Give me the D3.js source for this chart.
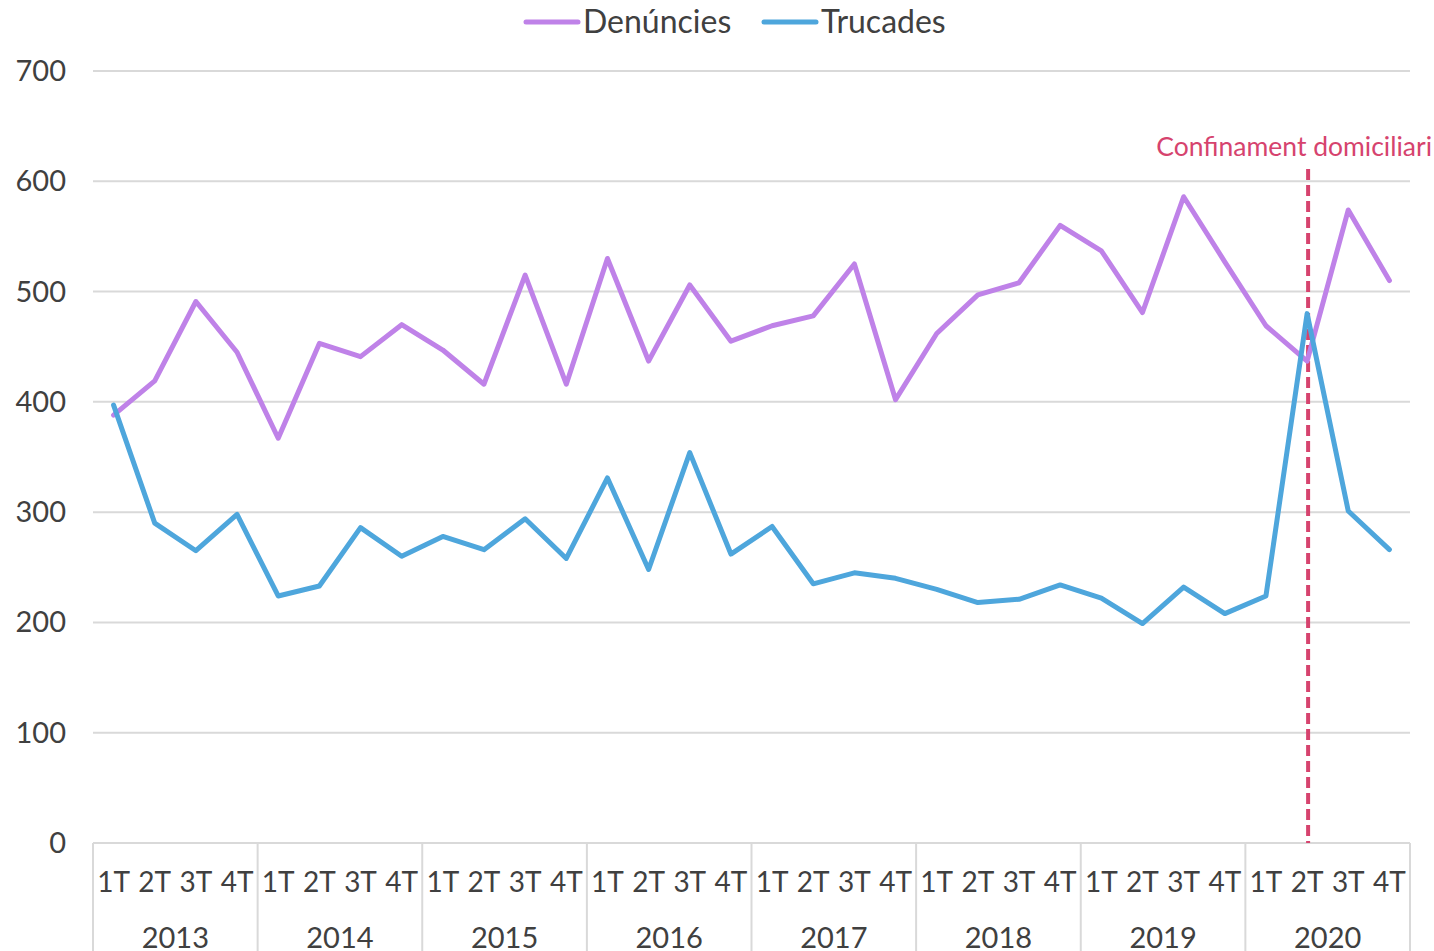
<!DOCTYPE html>
<meta charset="utf-8">
<script src="https://d3js.org/d3.v7.min.js"></script>
<style>
  body { margin: 0; background: #fff; }
  text { font-family: Lato, "Open Sans", sans-serif; fill: #404040; }
</style>
<div id="chart"></div>

<script>
    const years = ["2013", "2014", "2015", "2016", "2017", "2018", "2019", "2020"];
    const quarters = ["1T", "2T", "3T", "4T"];
    const denuncies = [388, 419, 491, 445, 367, 453, 441, 470, 447, 416, 515, 416,
        530, 437, 506, 455, 469, 478, 525, 402, 462, 497, 508, 560,
        537, 481, 586, 527, 469, 437, 574, 510];
    const trucades = [397, 290, 265, 298, 224, 233, 286, 260, 278, 266, 294, 258,
        331, 248, 354, 262, 287, 235, 245, 240, 230, 218, 221, 234,
        222, 199, 232, 208, 224, 480, 301, 266];
    const yTicks = [0, 100, 200, 300, 400, 500, 600, 700];
    const eventIndex = 29;
    const eventLabel = "Confinament domiciliari";

    const W = 1434, H = 951;
    const plot = {left: 93, right: 1410, top: 71, bottom: 843};

    const svg = d3.select("#chart").append("svg")
        .attr("width", W).attr("height", H);

    const keys = [];
    years.forEach(y => quarters.forEach(q => keys.push(y + "-" + q)));

    const x = d3.scaleBand().domain(keys).range([plot.left, plot.right]);
    const xYear = d3.scaleBand().domain(years).range([plot.left, plot.right]);
    const y = d3.scaleLinear().domain([0, 700]).range([plot.bottom, plot.top]);

    // grid
    svg.append("g").selectAll("line").data(yTicks.filter(d => d > 0)).join("line")
        .attr("x1", plot.left).attr("x2", plot.right)
        .attr("y1", d => y(d)).attr("y2", d => y(d))
        .attr("stroke", "#d9d9d9").attr("stroke-width", 2);

    svg.append("g").selectAll("text").data(yTicks).join("text")
        .attr("x", 66).attr("y", d => y(d) + 10)
        .attr("text-anchor", "end").attr("font-size", 29)
        .text(d => d);

    // x axis
    svg.append("line").attr("x1", plot.left).attr("x2", plot.right)
        .attr("y1", plot.bottom).attr("y2", plot.bottom)
        .attr("stroke", "#d9d9d9").attr("stroke-width", 2);
    const seps = years.map(d => xYear(d)).concat([plot.right]);
    svg.append("g").selectAll("line").data(seps).join("line")
        .attr("x1", d => d).attr("x2", d => d)
        .attr("y1", plot.bottom).attr("y2", H)
        .attr("stroke", "#d9d9d9").attr("stroke-width", 2);

    svg.append("g").selectAll("text").data(keys).join("text")
        .attr("x", d => x(d) + x.bandwidth() / 2).attr("y", 892)
        .attr("text-anchor", "middle").attr("font-size", 28)
        .text(d => d.split("-")[1]);
    svg.append("g").selectAll("text").data(years).join("text")
        .attr("x", d => xYear(d) + xYear.bandwidth() / 2).attr("y", 948)
        .attr("text-anchor", "middle").attr("font-size", 29)
        .text(d => d);

    // event marker
    const ex = x(keys[eventIndex]) + x.bandwidth() / 2 + 1;
    svg.append("line").attr("x1", ex).attr("x2", ex)
        .attr("y1", 169).attr("y2", plot.bottom)
        .attr("stroke", "#d6436e").attr("stroke-width", 4)
        .attr("stroke-dasharray", "11,5");
    svg.append("text").attr("x", 1432).attr("y", 156)
        .attr("text-anchor", "end").attr("font-size", 26.5)
        .style("fill", "#d6436e").text(eventLabel);

    const line = d3.line()
        .x((d, i) => x(keys[i]) + x.bandwidth() / 2)
        .y(d => y(d));

    const series = [
        {name: "Denúncies", values: denuncies, color: "#bf82e8"},
        {name: "Trucades", values: trucades, color: "#4ea6dc"}
    ];
    series.forEach(s => {
        svg.append("path").datum(s.values)
            .attr("d", line)
            .attr("fill", "none").attr("stroke", s.color)
            .attr("stroke-width", 5).attr("stroke-linejoin", "round")
            .attr("stroke-linecap", "round");
    });

    // legend
    const legendX = [526, 764];
    series.forEach((s, i) => {
        svg.append("line").attr("x1", legendX[i]).attr("x2", legendX[i] + 52)
            .attr("y1", 22).attr("y2", 22)
            .attr("stroke", s.color).attr("stroke-width", 5)
            .attr("stroke-linecap", "round");
        svg.append("text").attr("x", legendX[i] + 57).attr("y", 33)
            .attr("font-size", 32).text(s.name);
    });
</script>
